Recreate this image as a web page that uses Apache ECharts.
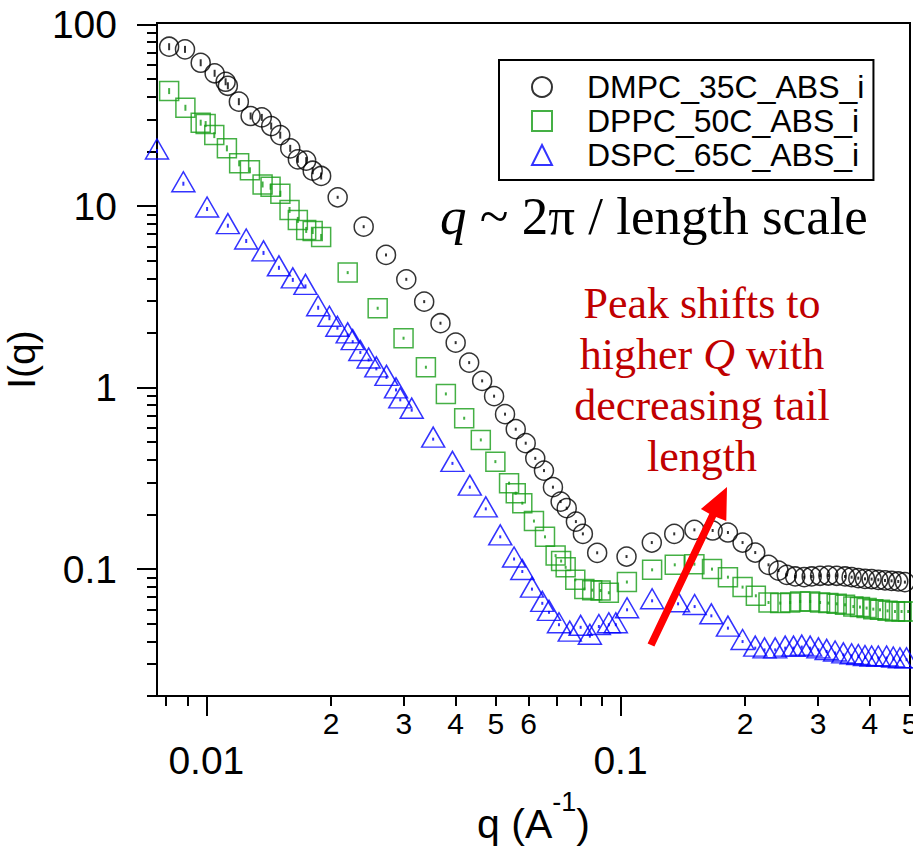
<!DOCTYPE html>
<html>
<head>
<meta charset="utf-8">
<script src="https://cdn.jsdelivr.net/npm/echarts@6/dist/echarts.min.js"></script>
<style>
  html, body { margin: 0; padding: 0; background: #fff; }
  #chart { width: 913px; height: 846px; }
</style>
</head>
<body>
<div id="chart"></div>
<script>
// Scattering intensity I(q) of three lipid samples, q in 1/Å
const qDMPC = [0.00813, 0.00888, 0.00969, 0.01047, 0.01113, 0.01127, 0.01198, 0.01279, 0.01361, 0.01434,
  0.01508, 0.01594, 0.01663, 0.01742, 0.01806, 0.01893, 0.02075, 0.02398, 0.02715, 0.03039,
  0.03357, 0.03675, 0.03999, 0.04311, 0.04633, 0.04951, 0.05262, 0.05585, 0.05903, 0.06225,
  0.06534, 0.06868, 0.07168, 0.07415, 0.07803, 0.08112, 0.08783, 0.1034, 0.1190, 0.1348,
  0.1508, 0.1669, 0.1817, 0.1971, 0.2115, 0.2277, 0.2407, 0.2520, 0.2641, 0.2776,
  0.2895, 0.3033, 0.3176, 0.3326, 0.3484, 0.3614, 0.3751, 0.3893, 0.4039, 0.4192,
  0.4351, 0.4513, 0.4684, 0.4860];
const iDMPC = [75.5, 73.0, 61.6, 53.9, 48.4, 46.0, 37.6, 31.35, 30.8, 27.6,
  24.6, 20.8, 18.1, 17.8, 15.66, 14.65, 11.18, 7.70, 5.38, 3.95,
  2.976, 2.263, 1.769, 1.373, 1.089, 0.897, 0.714, 0.590, 0.494, 0.4075,
  0.349, 0.2828, 0.2356, 0.2167, 0.1828, 0.1564, 0.1230, 0.1173, 0.1401, 0.1564,
  0.1646, 0.1632, 0.1591, 0.1401, 0.1234, 0.1056, 0.0982, 0.0930, 0.0911, 0.0903,
  0.0911, 0.0919, 0.0922, 0.0919, 0.0911, 0.0903, 0.0892, 0.0884, 0.0881, 0.0873,
  0.0866, 0.0862, 0.0855, 0.0848];

const qDPPC = [0.00813, 0.00890, 0.00969, 0.00996, 0.01045, 0.01121, 0.01200, 0.01274, 0.01367, 0.01429,
  0.01509, 0.01588, 0.01663, 0.01742, 0.01806, 0.01893, 0.02194, 0.02592, 0.02993, 0.03389,
  0.03787, 0.04193, 0.04599, 0.04987, 0.05381, 0.05585, 0.05792, 0.0618, 0.06571, 0.06971,
  0.07187, 0.07371, 0.07777, 0.08178, 0.08544, 0.08951, 0.09371, 0.1036, 0.1192, 0.1352,
  0.1508, 0.1663, 0.1817, 0.1971, 0.2122, 0.2277, 0.2430, 0.2568, 0.2715, 0.2870,
  0.3033, 0.3176, 0.3326, 0.3484, 0.3649, 0.3786, 0.3928, 0.4077, 0.4232, 0.4414,
  0.4599, 0.4771, 0.4950];
const iDPPC = [43.0, 34.8, 28.8, 28.3, 24.6, 20.8, 17.2, 15.74, 13.15, 12.79,
  11.7, 9.52, 8.39, 7.39, 7.29, 6.76, 4.30, 2.736, 1.871, 1.295,
  0.923, 0.678, 0.515, 0.391, 0.2976, 0.2621, 0.2309, 0.184, 0.1506, 0.1187,
  0.1108, 0.1023, 0.0873, 0.0777, 0.0766, 0.0762, 0.0741, 0.0849, 0.0991, 0.1056,
  0.1065, 0.1000, 0.0903, 0.0796, 0.0713, 0.0655, 0.0650, 0.0655, 0.0663, 0.0663,
  0.0655, 0.0650, 0.0644, 0.0636, 0.0622, 0.0618, 0.0610, 0.0602, 0.0597, 0.0589,
  0.0584, 0.0584, 0.0584];

const qDSPC = [0.0076, 0.0088, 0.01004, 0.01127, 0.01248, 0.01374, 0.01497, 0.01617, 0.01735, 0.01862,
  0.01982, 0.02072, 0.02194, 0.02256, 0.02354, 0.02465, 0.02573, 0.02722, 0.0287, 0.02939,
  0.03132, 0.03529, 0.03928, 0.04326, 0.04728, 0.05124, 0.05533, 0.05792, 0.06112, 0.06473,
  0.06719, 0.07102, 0.07541, 0.08011, 0.08433, 0.08866, 0.09371, 0.09743, 0.1037, 0.1192,
  0.1377, 0.1510, 0.1657, 0.1817, 0.1971, 0.2115, 0.2227, 0.2363, 0.2498, 0.2616,
  0.2739, 0.2870, 0.3005, 0.3146, 0.3297, 0.3452, 0.3614, 0.3751, 0.3893, 0.4039,
  0.4192, 0.4390, 0.4556, 0.4728, 0.4904];
const iDSPC = [20.1, 13.28, 9.64, 7.80, 6.42, 5.52, 4.57, 3.92, 3.61, 2.754,
  2.411, 2.124, 1.951, 1.792, 1.562, 1.42, 1.268, 1.138, 0.971, 0.856,
  0.751, 0.520, 0.3824, 0.2828, 0.2148, 0.1506, 0.1137, 0.0970, 0.0776, 0.0648,
  0.0578, 0.0494, 0.0444, 0.0478, 0.0427, 0.0483, 0.0494, 0.0494, 0.0597, 0.0669,
  0.0644, 0.0622, 0.0553, 0.0473, 0.0399, 0.0367, 0.0359, 0.0359, 0.0367, 0.0367,
  0.0372, 0.0367, 0.0359, 0.0352, 0.0345, 0.0337, 0.0333, 0.0330, 0.0326, 0.0324,
  0.0324, 0.0324, 0.0320, 0.0317, 0.0317];

const seriesNames = ['DMPC_35C_ABS_i', 'DPPC_50C_ABS_i', 'DSPC_65C_ABS_i'];

// Axis ranges and tick marks
const xRange = [0.0076, 0.5];
const yRange = [0.02, 102];
const xMajorTicks = [0.01, 0.1];
const xMajorLabels = ['0.01', '0.1'];
const xMinorTicks = [0.008, 0.009, 0.02, 0.03, 0.04, 0.05, 0.06, 0.07, 0.08, 0.09, 0.2, 0.3, 0.4, 0.5];
const xMinorLabelTicks = [0.02, 0.03, 0.04, 0.05, 0.06, 0.2, 0.3, 0.4, 0.5];
const xMinorLabels = ['2', '3', '4', '5', '6', '2', '3', '4', '5'];
const yMajorTicks = [0.1, 1, 10, 100];
const yMajorLabels = ['0.1', '1', '10', '100'];
const yMinorTicks = [0.02, 0.03, 0.04, 0.05, 0.06, 0.07, 0.08, 0.09,
  0.2, 0.3, 0.4, 0.5, 0.6, 0.7, 0.8, 0.9,
  2, 3, 4, 5, 6, 7, 8, 9,
  20, 30, 40, 50, 60, 70, 80, 90];

const SANS = 'Liberation Sans';
const SERIF = 'Liberation Serif';
const GREEN = '#179c17';
const BLUE = '#0000ff';

function labelFor(ticks, labels) {
  return function (v) {
    for (let k = 0; k < ticks.length; k++) {
      if (Math.abs(ticks[k] - v) <= ticks[k] * 1e-6) return labels[k];
    }
    return '';
  };
}

function pairs(q, I) {
  return q.map((v, k) => [v, I[k]]);
}

function markerSeries(name, q, I, symbol, size, color, offset) {
  return {
    name: name, type: 'scatter', data: pairs(q, I),
    xAxisIndex: 0, yAxisIndex: 0,
    symbol: symbol, symbolSize: size, symbolOffset: offset || [0, 0],
    itemStyle: { color: 'rgba(0,0,0,0)', borderColor: color, borderWidth: 1.5 },
    emphasis: { disabled: true }, clip: false, silent: true, z: 3
  };
}

// short error-bar ticks at the centre of each marker
function barSeries(q, I, color, longBar) {
  return {
    type: 'scatter', data: pairs(q, I), xAxisIndex: 0, yAxisIndex: 0,
    symbol: 'rect',
    symbolSize: function (v) { return v[0] < 0.02 ? [2, longBar] : [2, 3]; },
    itemStyle: { color: color },
    emphasis: { disabled: true }, clip: false, silent: true, z: 4
  };
}

function logAxis(range, extra) {
  return Object.assign({
    type: 'log', logBase: 10, min: range[0], max: range[1], gridIndex: 0,
    splitLine: { show: false }, minorTick: { show: false }, minorSplitLine: { show: false },
    axisPointer: { show: false }
  }, extra);
}

const chart = echarts.init(document.getElementById('chart'), null, { renderer: 'svg' });

chart.setOption({
  animation: false,
  backgroundColor: '#ffffff',
  grid: {
    left: 157, right: 3, top: 23, bottom: 150, outerBoundsMode: 'none',
    show: true, borderColor: '#000', borderWidth: 2, backgroundColor: 'rgba(0,0,0,0)'
  },
  xAxis: [
    logAxis(xRange, {
      position: 'bottom',
      axisLine: { show: true, lineStyle: { color: '#000', width: 2 } },
      axisTick: { show: true, length: 20, lineStyle: { color: '#000', width: 2 }, customValues: xMajorTicks },
      axisLabel: {
        show: true, customValues: xMajorTicks, formatter: labelFor(xMajorTicks, xMajorLabels),
        margin: 45, fontSize: 39, fontFamily: SANS, color: '#000'
      },
      name: '{n|q (A}{s|-1}{n|)}',
      nameLocation: 'middle', nameGap: 92,
      nameTextStyle: {
        rich: {
          n: { fontSize: 41, fontFamily: SANS, color: '#000', lineHeight: 56, verticalAlign: 'bottom' },
          s: { fontSize: 27, fontFamily: SANS, color: '#000', lineHeight: 28, verticalAlign: 'top' }
        }
      }
    }),
    logAxis(xRange, {
      position: 'bottom',
      axisLine: { show: false },
      axisTick: { show: true, length: 10, lineStyle: { color: '#000', width: 2 }, customValues: xMinorTicks },
      axisLabel: {
        show: true, customValues: xMinorLabelTicks, formatter: labelFor(xMinorLabelTicks, xMinorLabels),
        margin: 12, fontSize: 30, fontFamily: SANS, color: '#000',
        alignMaxLabel: 'center', hideOverlap: false
      }
    })
  ],
  yAxis: [
    logAxis(yRange, {
      position: 'left',
      axisLine: { show: true, lineStyle: { color: '#000', width: 2 } },
      axisTick: { show: true, length: 20, lineStyle: { color: '#000', width: 2 }, customValues: yMajorTicks },
      axisLabel: {
        show: true, customValues: yMajorTicks, formatter: labelFor(yMajorTicks, yMajorLabels),
        margin: 40, fontSize: 39, fontFamily: SANS, color: '#000'
      },
      name: 'I(q)', nameLocation: 'middle', nameGap: 94, nameRotate: 90,
      nameTextStyle: { fontSize: 39, fontFamily: SANS, color: '#000' }
    }),
    logAxis(yRange, {
      position: 'left',
      axisLine: { show: false },
      axisTick: { show: true, length: 10, lineStyle: { color: '#000', width: 2 }, customValues: yMinorTicks },
      axisLabel: { show: false }
    })
  ],
  legend: {
    data: seriesNames,
    orient: 'vertical', left: 499, top: 60,
    padding: [11, 9, 9, 32], itemGap: 2,
    itemWidth: 20, itemHeight: 20,
    borderColor: '#000', borderWidth: 2, borderRadius: 0,
    backgroundColor: '#fff',
    formatter: function (name) { return '{g| }{t|' + name + '}'; },
    textStyle: {
      fontSize: 32, fontFamily: SANS, color: '#000',
      rich: {
        g: { width: 30, fontSize: 32, fontFamily: SANS },
        t: { fontSize: 32, fontFamily: SANS, color: '#000' }
      }
    },
    selectedMode: false
  },
  series: [
    markerSeries(seriesNames[0], qDMPC, iDMPC, 'circle', 19, '#000'),
    markerSeries(seriesNames[1], qDPPC, iDPPC, 'rect', 19, GREEN),
    markerSeries(seriesNames[2], qDSPC, iDSPC, 'triangle', [23, 20], BLUE, [0, -2]),
    barSeries(qDMPC, iDMPC, '#000', 7),
    barSeries(qDPPC, iDPPC, GREEN, 6),
    barSeries(qDSPC, iDSPC, BLUE, 4)
  ],
  graphic: [
    {
      type: 'text', x: 654, y: 216, z: 10,
      style: {
        text: '{i|q}{n| ~ 2π / length scale}',
        align: 'center', verticalAlign: 'middle', textAlign: 'center', textVerticalAlign: 'middle',
        rich: {
          i: { fontFamily: SERIF, fontSize: 53, fontStyle: 'italic', fill: '#000' },
          n: { fontFamily: SERIF, fontSize: 53, fill: '#000' }
        }
      }
    },
    {
      type: 'text', x: 702, y: 303, z: 10,
      style: { text: 'Peak shifts to', font: '44px "Liberation Serif"', fill: '#c00000',
        align: 'center', verticalAlign: 'middle', textAlign: 'center', textVerticalAlign: 'middle' }
    },
    {
      type: 'text', x: 702, y: 354, z: 10,
      style: {
        text: '{n|higher }{i|Q}{n| with}',
        align: 'center', verticalAlign: 'middle', textAlign: 'center', textVerticalAlign: 'middle',
        rich: {
          n: { fontFamily: SERIF, fontSize: 44, fill: '#c00000' },
          i: { fontFamily: SERIF, fontSize: 44, fontStyle: 'italic', fill: '#c00000' }
        }
      }
    },
    {
      type: 'text', x: 702, y: 405, z: 10,
      style: { text: 'decreasing tail', font: '44px "Liberation Serif"', fill: '#c00000',
        align: 'center', verticalAlign: 'middle', textAlign: 'center', textVerticalAlign: 'middle' }
    },
    {
      type: 'text', x: 702, y: 456, z: 10,
      style: { text: 'length', font: '44px "Liberation Serif"', fill: '#c00000',
        align: 'center', verticalAlign: 'middle', textAlign: 'center', textVerticalAlign: 'middle' }
    },
    {
      // arrow pointing towards the shifted peak
      type: 'polygon', z: 10,
      shape: {
        points: [[654.4, 646.6], [716.1, 517.0], [726.3, 521.1], [727, 487], [700.9, 508.9], [709.3, 513.7], [647.6, 643.4]]
      },
      style: { fill: '#ff0000' }
    }
  ]
});
</script>
</body>
</html>
